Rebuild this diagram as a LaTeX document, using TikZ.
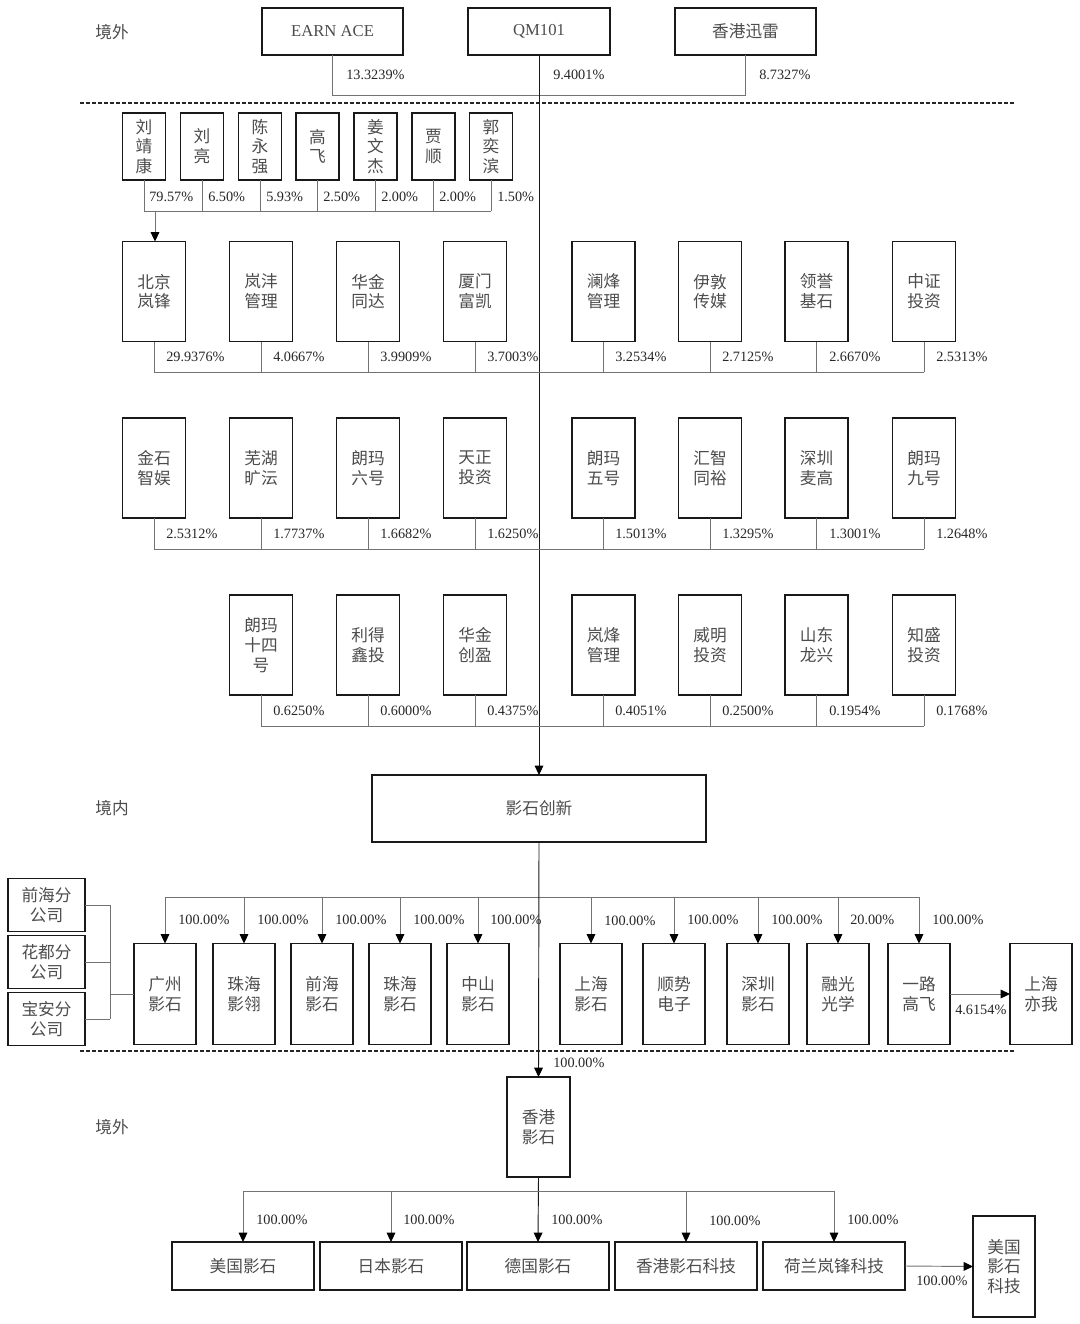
\documentclass[tikz,border=0pt]{standalone}
\usepackage{fontspec}
\setmainfont{Liberation Serif}
\newfontfamily\cjk{Noto Sans CJK SC}
\usetikzlibrary{arrows.meta,calc}
\newcommand\Bx[6]{\node[box,minimum width=#4*0.75pt,minimum height=#5*0.75pt] (#1) at (#2,#3) {#6};}
\newcommand\Pc[4]{\node[pct] (#1) at (#2,#3) {#4};}
\newcommand\Stub[2]{\draw[conn] (#1.south) -- (#1.south |- #2);}
\newcommand\Drop[2]{\draw[arr] (#1.north |- #2) -- (#1.north);}
\begin{document}
\begin{tikzpicture}[x=0.75pt,y=-0.75pt,
  box/.style={draw=black!90,line width=1.1pt,inner sep=0pt,outer sep=0pt,align=center,text=black!70,font=\cjk\fontsize{12.5}{14.8}\selectfont},
  pbox/.style={box,font=\cjk\fontsize{12.5}{15}\selectfont},
  conn/.style={draw=black!55,line width=0.7pt},
  mainl/.style={draw=black!90,line width=0.7pt},
  arr/.style={conn,-{Triangle[width=6.5pt,length=7pt,color=black]}},
  mainarr/.style={mainl,-{Triangle[width=6.5pt,length=7pt,color=black]}},
  pct/.style={anchor=west,inner sep=0pt,text=black!85,font=\fontsize{10.7}{12}\selectfont},
  region/.style={inner sep=0pt,text=black!70,font=\cjk\fontsize{12.5}{14}\selectfont},
  sep/.style={draw=black!85,line width=1pt,dash pattern=on 3pt off 1.5pt}]
\useasboundingbox (0,0) rectangle (1080,1324);

% region labels
\node[region] (r1) at (112,32) {境外};
\node[region] (r2) at (112,808) {境内};
\node[region] (r3) at (112,1127) {境外};

% separators
\draw[sep] (80,103) -- (1015,103);
\draw[sep] (80,1051) -- (1015,1051);

% top shareholders
\Bx{t1}{332.5}{31.5}{141}{47}{\rmfamily EARN ACE}
\Bx{t2}{539}{31.5}{142}{47}{\rmfamily QM101}
\Bx{t3}{745.5}{31.5}{141}{47}{香港迅雷}
\Pc{pt1}{346}{75}{13.3239\%}
\Pc{pt2}{553}{75}{9.4001\%}
\Pc{pt3}{759}{75}{8.7327\%}

% persons
\Bx{p1}{144}{146.5}{43}{67}{刘\\靖\\康}
\Bx{p2}{202}{146.5}{43}{67}{刘\\亮}
\Bx{p3}{260}{146.5}{43}{67}{陈\\永\\强}
\Bx{p4}{317.5}{146.5}{43}{67}{高\\飞}
\Bx{p5}{375.5}{146.5}{43}{67}{姜\\文\\杰}
\Bx{p6}{433.5}{146.5}{43}{67}{贾\\顺}
\Bx{p7}{491}{146.5}{43}{67}{郭\\奕\\滨}
\Pc{pp1}{149}{197}{79.57\%}
\Pc{pp2}{208}{197}{6.50\%}
\Pc{pp3}{266}{197}{5.93\%}
\Pc{pp4}{323}{197}{2.50\%}
\Pc{pp5}{381}{197}{2.00\%}
\Pc{pp6}{439}{197}{2.00\%}
\Pc{pp7}{497}{197}{1.50\%}

% row A
\Bx{a1}{154}{291.5}{63}{100}{北京\\岚锋}
\Bx{a2}{261}{291.5}{63}{100}{岚沣\\管理}
\Bx{a3}{368}{291.5}{63}{100}{华金\\同达}
\Bx{a4}{475}{291.5}{63}{100}{厦门\\富凯}
\Bx{a5}{603.5}{291.5}{63}{100}{澜烽\\管理}
\Bx{a6}{710}{291.5}{63}{100}{伊敦\\传媒}
\Bx{a7}{816.5}{291.5}{63}{100}{领誉\\基石}
\Bx{a8}{924}{291.5}{63}{100}{中证\\投资}
\Pc{pa1}{166}{357}{29.9376\%}
\Pc{pa2}{273}{357}{4.0667\%}
\Pc{pa3}{380}{357}{3.9909\%}
\Pc{pa4}{487}{357}{3.7003\%}
\Pc{pa5}{615}{357}{3.2534\%}
\Pc{pa6}{722}{357}{2.7125\%}
\Pc{pa7}{829}{357}{2.6670\%}
\Pc{pa8}{936}{357}{2.5313\%}

% row B
\Bx{b1}{154}{468}{63}{100}{金石\\智娱}
\Bx{b2}{261}{468}{63}{100}{芜湖\\旷沄}
\Bx{b3}{368}{468}{63}{100}{朗玛\\六号}
\Bx{b4}{475}{468}{63}{100}{天正\\投资}
\Bx{b5}{603.5}{468}{63}{100}{朗玛\\五号}
\Bx{b6}{710}{468}{63}{100}{汇智\\同裕}
\Bx{b7}{816.5}{468}{63}{100}{深圳\\麦高}
\Bx{b8}{924}{468}{63}{100}{朗玛\\九号}
\Pc{pb1}{166}{534}{2.5312\%}
\Pc{pb2}{273}{534}{1.7737\%}
\Pc{pb3}{380}{534}{1.6682\%}
\Pc{pb4}{487}{534}{1.6250\%}
\Pc{pb5}{615}{534}{1.5013\%}
\Pc{pb6}{722}{534}{1.3295\%}
\Pc{pb7}{829}{534}{1.3001\%}
\Pc{pb8}{936}{534}{1.2648\%}

% row C
\Bx{c2}{261}{645}{63}{100}{朗玛\\十四\\号}
\Bx{c3}{368}{645}{63}{100}{利得\\鑫投}
\Bx{c4}{475}{645}{63}{100}{华金\\创盈}
\Bx{c5}{603.5}{645}{63}{100}{岚烽\\管理}
\Bx{c6}{710}{645}{63}{100}{威明\\投资}
\Bx{c7}{816.5}{645}{63}{100}{山东\\龙兴}
\Bx{c8}{924}{645}{63}{100}{知盛\\投资}
\Pc{pc2}{273}{711}{0.6250\%}
\Pc{pc3}{380}{711}{0.6000\%}
\Pc{pc4}{487}{711}{0.4375\%}
\Pc{pc5}{615}{711}{0.4051\%}
\Pc{pc6}{722}{711}{0.2500\%}
\Pc{pc7}{829}{711}{0.1954\%}
\Pc{pc8}{936}{711}{0.1768\%}

% company
\Bx{ys}{539}{808.5}{334}{67}{影石创新}

% domestic subsidiaries
\Bx{s1}{165}{994}{62}{101}{广州\\影石}
\Bx{s2}{244}{994}{62}{101}{珠海\\影翎}
\Bx{s3}{322}{994}{62}{101}{前海\\影石}
\Bx{s4}{400}{994}{62}{101}{珠海\\影石}
\Bx{s5}{478}{994}{62}{101}{中山\\影石}
\Bx{s6}{591}{994}{62}{101}{上海\\影石}
\Bx{s7}{674}{994}{62}{101}{顺势\\电子}
\Bx{s8}{758}{994}{62}{101}{深圳\\影石}
\Bx{s9}{838}{994}{62}{101}{融光\\光学}
\Bx{s10}{919}{994}{62}{101}{一路\\高飞}
\Bx{sy}{1041}{994}{62}{101}{上海\\亦我}
\Pc{ps1}{178}{920}{100.00\%}
\Pc{ps2}{257}{920}{100.00\%}
\Pc{ps3}{335}{920}{100.00\%}
\Pc{ps4}{413}{920}{100.00\%}
\Pc{ps5}{490}{920}{100.00\%}
\Pc{ps6}{604}{921}{100.00\%}
\Pc{ps7}{687}{920}{100.00\%}
\Pc{ps8}{771}{920}{100.00\%}
\Pc{ps9}{850}{920}{20.00\%}
\Pc{ps10}{932}{920}{100.00\%}
\Pc{psy}{955}{1010}{4.6154\%}

% branches
\Bx{br1}{46.5}{905}{77}{53}{前海分\\公司}
\Bx{br2}{46.5}{962}{77}{53}{花都分\\公司}
\Bx{br3}{46.5}{1019}{77}{53}{宝安分\\公司}

% Hong Kong
\Bx{hk}{538.5}{1127}{63}{100}{香港\\影石}
\Pc{phk}{553}{1063}{100.00\%}

% overseas
\Bx{o1}{243}{1266}{142}{48}{美国影石}
\Bx{o2}{391}{1266}{142}{48}{日本影石}
\Bx{o3}{538}{1266}{142}{48}{德国影石}
\Bx{o4}{686}{1266}{142}{48}{香港影石科技}
\Bx{o5}{834}{1266}{142}{48}{荷兰岚锋科技}
\Bx{o6}{1004}{1266.5}{62}{101}{美国\\影石\\科技}
\Pc{po1}{256}{1220}{100.00\%}
\Pc{po2}{403}{1220}{100.00\%}
\Pc{po3}{551}{1220}{100.00\%}
\Pc{po4}{709}{1221}{100.00\%}
\Pc{po5}{847}{1220}{100.00\%}
\Pc{po6}{916}{1281}{100.00\%}

% ---------- connectors ----------
\coordinate (tb) at (0,95);
\coordinate (pbus) at (0,211);
\coordinate (busA) at (0,372);
\coordinate (busB) at (0,549);
\coordinate (busC) at (0,726);
\coordinate (sbus) at (0,897);
\coordinate (obus) at (0,1191);
\coordinate (brx) at (110,0);
\coordinate (arrx) at (155,0);

\draw[conn] (t1.south) -- (t1.south |- tb) -- (t3.south |- tb) -- (t3.south);
\draw[mainarr] (t2.south) -- (ys.north);

\foreach \n in {p1,p2,p3,p4,p5,p6,p7} {\Stub{\n}{pbus}}
\draw[conn] (p1.south |- pbus) -- (p7.south |- pbus);
\draw[arr] (arrx |- pbus) -- (arrx |- a1.north);

\foreach \n in {a1,a2,a3,a4,a5,a6,a7,a8} {\Stub{\n}{busA}}
\draw[conn] (a1.south |- busA) -- (a8.south |- busA);
\foreach \n in {b1,b2,b3,b4,b5,b6,b7,b8} {\Stub{\n}{busB}}
\draw[conn] (b1.south |- busB) -- (b8.south |- busB);
\foreach \n in {c2,c3,c4,c5,c6,c7,c8} {\Stub{\n}{busC}}
\draw[conn] (c2.south |- busC) -- (c8.south |- busC);

\draw[conn] (s1.north |- sbus) -- (s10.north |- sbus);
\foreach \n in {s1,s2,s3,s4,s5,s6,s7,s8,s9,s10} {\Drop{\n}{sbus}}
\draw[arr] (s10.east) -- (sy.west);
\draw[mainarr] (ys.south) -- (hk.north);

\draw[conn] (br1.east) -- (br1.east -| brx);
\draw[conn] (br2.east) -- (br2.east -| brx);
\draw[conn] (br3.east) -- (br3.east -| brx);
\draw[conn] (br1.east -| brx) -- (br3.east -| brx);
\draw[conn] (s1.west -| brx) -- (s1.west);

\draw[mainarr] (hk.south) -- (o3.north);
\draw[conn] (o1.north |- obus) -- (o5.north |- obus);
\foreach \n in {o1,o2,o4,o5} {\Drop{\n}{obus}}
\draw[arr] (o5.east) -- (o6.west);
\end{tikzpicture}
\end{document}
